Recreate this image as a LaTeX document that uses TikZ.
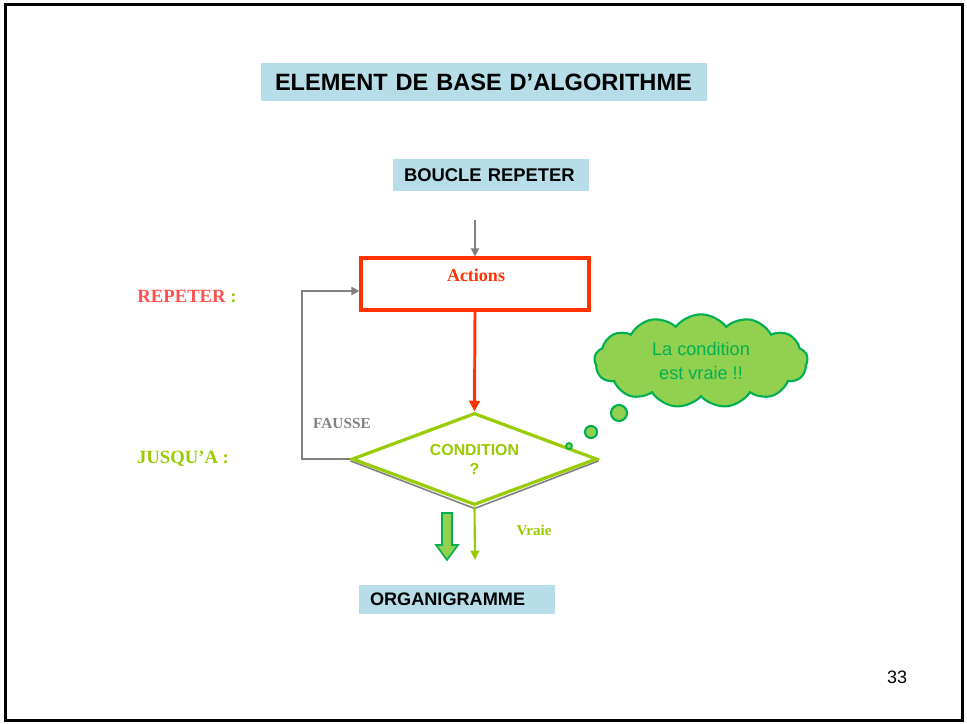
\documentclass[tikz,border=0pt]{standalone}
\usepackage{fontspec}
\setmainfont{Liberation Serif}
\setsansfont{Liberation Sans}
\usetikzlibrary{arrows.meta,shapes.geometric,shapes.symbols,backgrounds}

\definecolor{boxblue}{HTML}{B7DEE8}
\definecolor{actred}{HTML}{FF3300}
\definecolor{salmon}{HTML}{FF5050}
\definecolor{lime}{HTML}{99CC00}
\definecolor{linegray}{HTML}{808080}
\definecolor{cloudfill}{HTML}{92D050}
\definecolor{clouddraw}{HTML}{00B050}

\tikzset{
  slidebox/.style={fill=boxblue, inner xsep=8.25pt, inner ysep=0pt, align=left,
    font=\sffamily\bfseries, text=black},
  grayline/.style={draw=linegray, line width=1.5pt},
  grayarrow/.style={grayline, -{Triangle[length=6pt,width=6pt]}},
  redarrow/.style={draw=actred, line width=2.2pt, -{Triangle[length=8pt,width=8pt]}},
  greenarrow/.style={draw=lime, line width=1.6pt, -{Triangle[length=7pt,width=6.5pt]}},
  bubble/.style={circle, fill=cloudfill, draw=clouddraw, line width=1.6pt, inner sep=0pt},
  sidelabel/.style={font=\rmfamily\bfseries\fontsize{14}{16}\selectfont},
}

\begin{document}
\begin{tikzpicture}[x=0.75pt,y=-0.75pt]
\useasboundingbox (0,0) rectangle (967,724);

% slide frame
\draw[black, line width=2.25pt] (5,5) rectangle (962,720);

% headings
\node[slidebox, inner xsep=10.5pt, text width=313.5pt, minimum height=28.5pt,
      font=\sffamily\bfseries\fontsize{17.7}{20}\selectfont]
  (title) at (484,82) {ELEMENT DE BASE D’ALGORITHME};
\node[slidebox, text width=130.5pt, minimum height=24pt, font=\sffamily\bfseries\fontsize{13.8}{16}\selectfont]
  (boucle) at (491,175) {BOUCLE REPETER};
\node[slidebox, text width=130.5pt, minimum height=21.75pt, font=\sffamily\bfseries\fontsize{13.6}{16}\selectfont]
  (organi) at (457,599.5) {ORGANIGRAMME};

% action block
\node[draw=actred, line width=2.4pt, minimum width=171pt, minimum height=39pt, fill=white]
  (act) at (475,284) {};
\node[text=actred, font=\rmfamily\bfseries\fontsize{13.5}{16}\selectfont]
  (acttext) at (476,275) {Actions};

% condition diamond
\node[diamond, draw=lime, fill=white, line width=2.4pt, aspect=2.6,
      minimum width=183.75pt, minimum height=69pt, inner sep=0pt, align=center,
      text=lime, font=\sffamily\bfseries\fontsize{11.9}{14.25}\selectfont]
  (cond) at (474.5,459) {CONDITION\\?};
\begin{scope}[on background layer]
  \draw[linegray, line width=1.2pt]
    ([yshift=-1.4pt]cond.west) -- ([yshift=-1.4pt]cond.south) -- ([yshift=-1.4pt]cond.east);
\end{scope}

% thought cloud
\node[cloud, cloud puffs=13, cloud puff arc=105, aspect=2.4, fill=cloudfill, draw=clouddraw,
      line width=1.6pt, minimum width=160pt, minimum height=70pt, inner sep=0pt, align=center,
      text=clouddraw, font=\sffamily\fontsize{13.6}{18}\selectfont]
  (cloud) at (701,361) {La condition\\est vraie !!};
\node[bubble, minimum size=12pt] (b1) at (619,413) {};
\node[bubble, minimum size=9pt] (b2) at (591,432) {};
\node[bubble, minimum size=4.5pt, line width=1.3pt] (b3) at (569,446) {};

% connectors
\coordinate (entry) at (475,220);
\coordinate (loopc) at (302,291);
\coordinate (vend) at (475,560);
\draw[grayarrow] (entry) -- (act.north);
\draw[redarrow] (act.south) -- (cond.north);
\draw[grayarrow] (cond.west) -| (loopc) -- (loopc -| act.west);
\draw[greenarrow] (cond.south) -- (vend);

% block arrow towards the flowchart
\draw[draw=clouddraw, fill=cloudfill, line width=1.2pt]
  (442,513) -- (452,513) -- (452,545) -- (458,545) -- (447,560) -- (436,545) -- (442,545) -- cycle;

% side labels
\node[sidelabel] (rep) at (187,297) {\textcolor{salmon}{REPETER}\ \textcolor{lime}{:}};
\node[sidelabel, text=lime] (jus) at (183,459) {JUSQU’A :};
\node[text=linegray, font=\rmfamily\bfseries\fontsize{11.5}{14}\selectfont] (fausse) at (342,423) {FAUSSE};
\node[text=lime, font=\rmfamily\bfseries\fontsize{11.3}{14}\selectfont] (vraie) at (534,530) {Vraie};

% page number
\node[font=\sffamily\fontsize{13.5}{16}\selectfont] (pnum) at (897,677) {33};
\end{tikzpicture}
\end{document}
